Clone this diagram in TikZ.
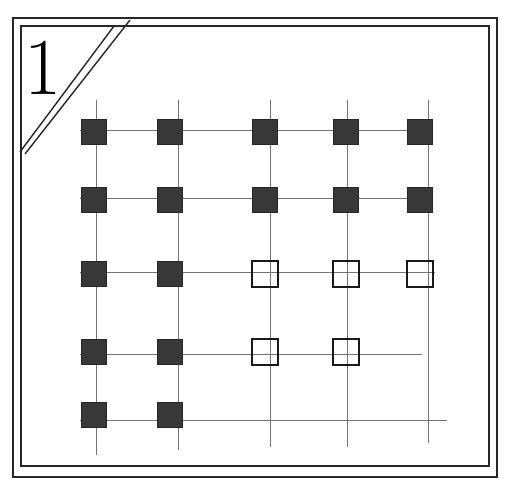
\documentclass[tikz,border=0pt]{standalone}
\begin{document}
\begin{tikzpicture}[x=0.02cm,y=-0.02cm,
  frame/.style={draw=black!85,line width=1pt},
  gridline/.style={draw=black!55,line width=0.55pt},
  full/.style={draw=black!85,fill=black!78,minimum size=0.5cm,inner sep=0pt,line width=0.6pt},
  empty/.style={draw=black!90,minimum size=0.52cm,inner sep=0pt,line width=1.3pt}]
\useasboundingbox (0,0) rectangle (507,485);
% frame (double)
\draw[frame] (13,18) rectangle (497,477);
\draw[frame] (21,26) rectangle (489,466);
% corner label
\coordinate (da1) at (20,152);
\coordinate (da2) at (114,26);
\coordinate (db1) at (25,154);
\coordinate (db2) at (130,20);
\draw[frame,line width=0.8pt] (da1) -- (da2);
\draw[frame,line width=0.8pt] (db1) -- (db2);
\node[font=\fontsize{46}{46}\selectfont,inner sep=0pt] (one) at (43,68) {1};
% intersections
\foreach \r/\y in {1/132,2/200,3/274,4/352,5/415}{
  \foreach \c/\x in {1/94,2/170,3/265,4/346,5/420}{
    \coordinate (p\r\c) at (\x,\y);
  }
}
% line ends
\foreach \c/\x/\b in {1/96/455,2/178/450,3/270/447,4/347/447,5/428/443}{
  \coordinate (t\c) at (\x,100);
  \coordinate (b\c) at (\x,\b);
}
\foreach \r/\y/\e in {1/130/430,2/198/433,3/272/435,4/354/422,5/420/447}{
  \coordinate (l\r) at (80,\y);
  \coordinate (e\r) at (\e,\y);
}
\foreach \c in {1,...,5}{\draw[gridline] (t\c) -- (b\c);}
\foreach \r in {1,...,5}{\draw[gridline] (l\r) -- (e\r);}
% filled squares
\foreach \r/\c in {1/1,1/2,1/3,1/4,1/5,2/1,2/2,2/3,2/4,2/5,3/1,3/2,4/1,4/2,5/1,5/2}{
  \node[full] (s\r\c) at (p\r\c) {};
}
% hollow squares
\foreach \r/\c in {3/3,3/4,3/5,4/3,4/4}{
  \node[empty] (s\r\c) at (p\r\c) {};
}
\end{tikzpicture}
\end{document}
